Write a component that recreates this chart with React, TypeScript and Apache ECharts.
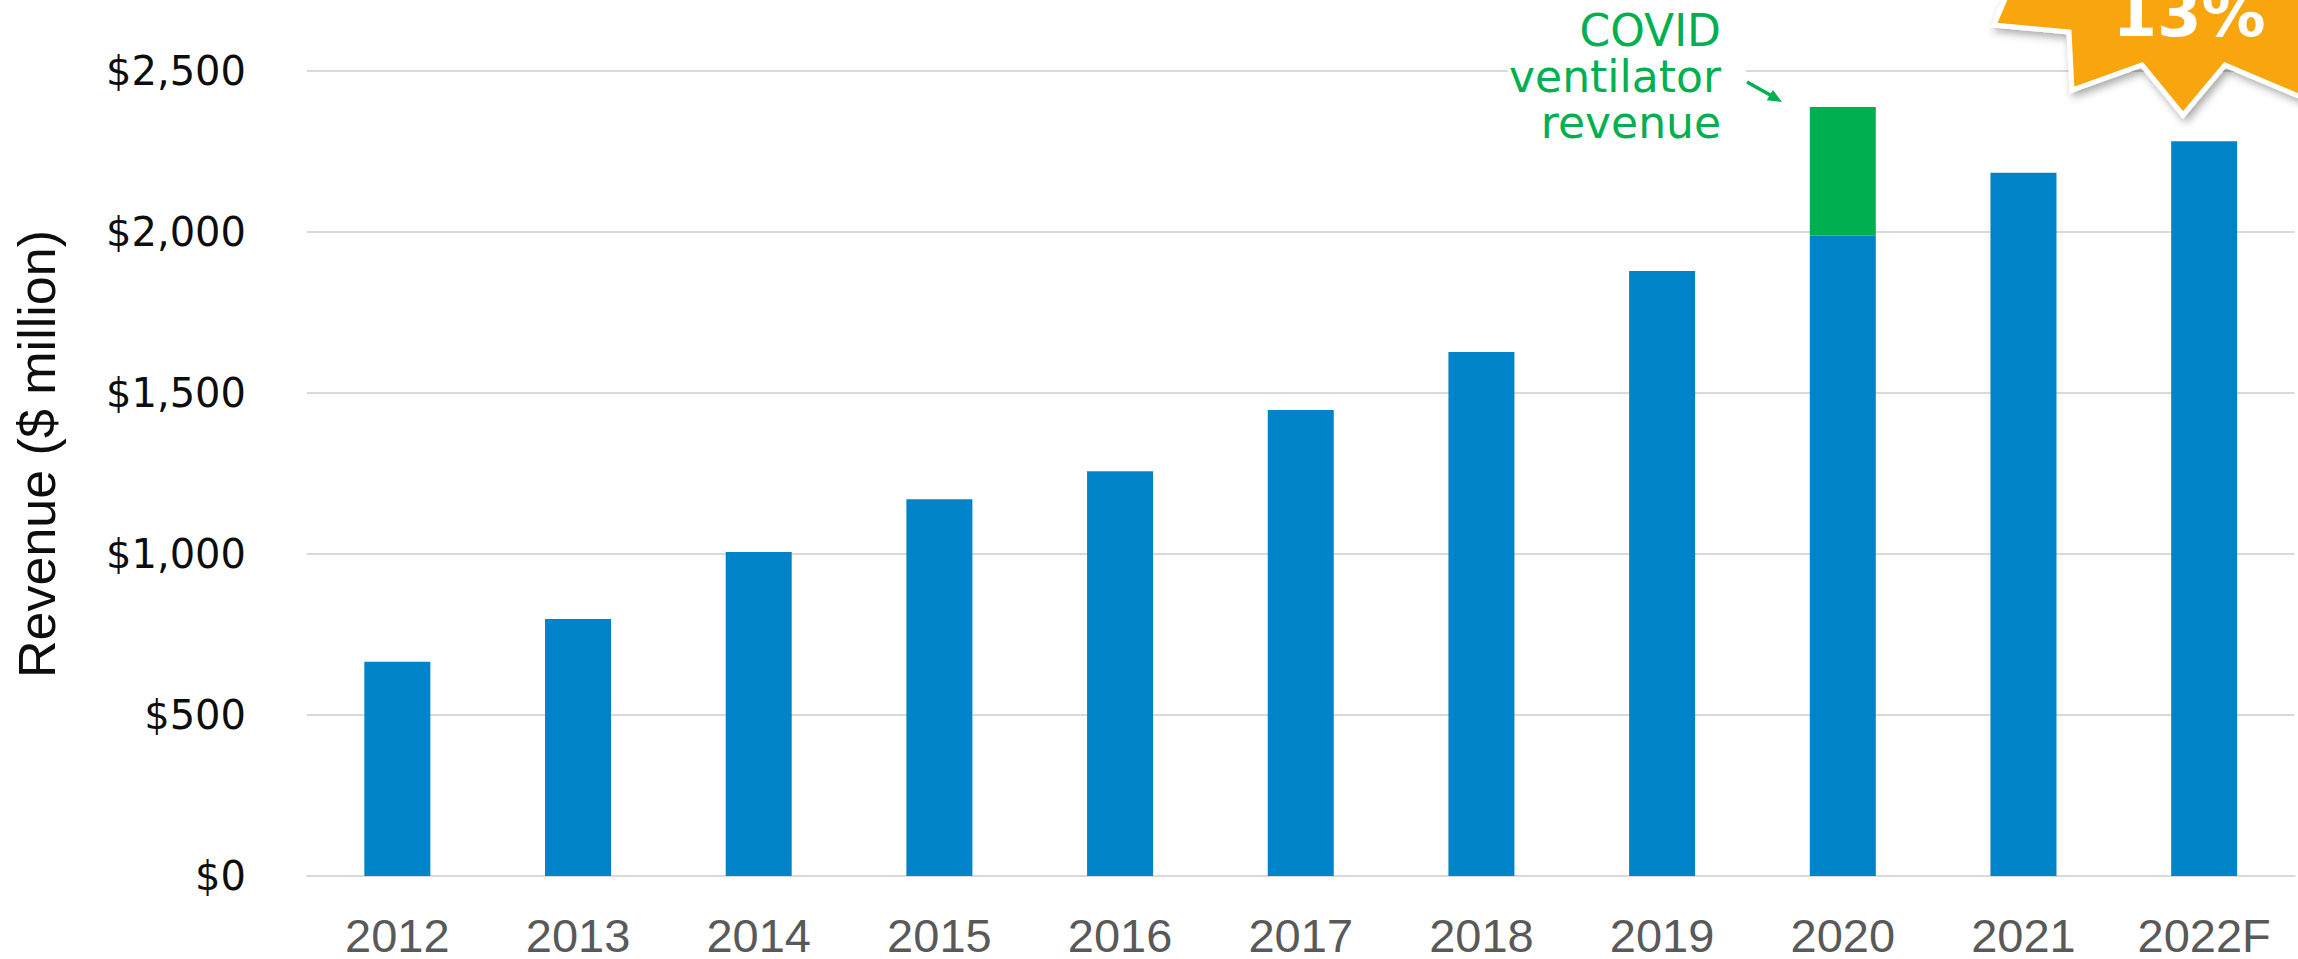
import React, { useEffect, useRef } from 'react';
import * as echarts from 'echarts';

const years = ['2012', '2013', '2014', '2015', '2016', '2017', '2018', '2019', '2020', '2021', '2022F'];
const coreRevenue = [665, 798, 1006, 1170, 1257, 1447, 1627, 1879, 1988, 2184, 2282];
const covidVentilatorRevenue = [null, null, null, null, null, null, null, null, 400, null, null];
const yMin = 0;
const yMax = 2500;
const yInterval = 500;
const yAxisTitle = 'Revenue ($ million)';
const annotationLines = ['COVID', 'ventilator', 'revenue'];
const badgeText = '13%';

const BLUE = '#0083C8';
const GREEN = '#00B050';
const ORANGE = '#F9A50D';

export default function App() {
  const ref = useRef<HTMLDivElement>(null);
  useEffect(() => {
    const chart = echarts.init(ref.current as HTMLDivElement, null, { renderer: 'svg' });
    chart.setOption({
      animation: false,
      backgroundColor: '#ffffff',
      grid: { left: 307, right: 3.5, top: 71, bottom: 83, containLabel: false },
      xAxis: {
        type: 'category',
        data: years,
        axisLine: { show: true, lineStyle: { color: '#D9D9D9', width: 2 } },
        axisTick: { show: false },
        axisLabel: {
          color: '#595959',
          fontFamily: "'Liberation Sans', Arial, sans-serif",
          fontSize: 47,
          lineHeight: 40,
          margin: 39,
        },
      },
      yAxis: {
        type: 'value',
        min: yMin,
        max: yMax,
        interval: yInterval,
        axisLine: { show: false },
        axisTick: { show: false },
        splitLine: { lineStyle: { color: '#D9D9D9', width: 2 } },
        axisLabel: {
          color: '#0D0D0D',
          fontFamily: "'DejaVu Sans', sans-serif",
          fontSize: 40,
          margin: 61,
          formatter: (v: number) => '$' + v.toLocaleString('en-US'),
        },
      },
      series: [
        {
          name: 'Revenue',
          type: 'bar',
          stack: 'total',
          data: coreRevenue,
          barWidth: 66,
          itemStyle: { color: BLUE },
        },
        {
          name: 'COVID ventilator revenue',
          type: 'bar',
          stack: 'total',
          data: covidVentilatorRevenue,
          barWidth: 66,
          itemStyle: { color: GREEN },
        },
      ],
      graphic: [
        {
          type: 'text',
          x: 37,
          y: 454,
          rotation: Math.PI / 2,
          style: {
            text: yAxisTitle,
            fill: '#0D0D0D',
            font: "52px 'Liberation Sans', Arial, sans-serif",
            textAlign: 'center',
            textVerticalAlign: 'middle',
          },
        },
        {
          type: 'rect',
          z: 10,
          shape: { x: 1508, y: 0, width: 238, height: 150 },
          style: { fill: '#ffffff' },
        },
        {
          type: 'text',
          z: 11,
          x: 1721,
          y: 76,
          style: {
            text: annotationLines.join('\n'),
            fill: GREEN,
            font: "44px 'DejaVu Sans', sans-serif",
            lineHeight: 46,
            textAlign: 'right',
            textVerticalAlign: 'middle',
          },
        },
        {
          type: 'line',
          z: 11,
          shape: { x1: 1747, y1: 82, x2: 1772, y2: 96 },
          style: { stroke: GREEN, lineWidth: 3.5 },
        },
        {
          type: 'polygon',
          z: 11,
          shape: { points: [[1782, 102], [1766.8, 100.3], [1772.8, 89.9]] },
          style: { fill: GREEN },
        },
        {
          type: 'polygon',
          z: 20,
          shape: {
            points: [
              [2013, -20],
              [1994, 25],
              [2069, 32],
              [2072, 90],
              [2142, 65],
              [2183, 115],
              [2225, 65],
              [2296, 95],
              [2330, 105],
              [2330, -20],
            ],
          },
          style: {
            fill: ORANGE,
            stroke: '#ffffff',
            lineWidth: 5,
            lineJoin: 'miter',
            shadowBlur: 8,
            shadowOffsetX: 3,
            shadowOffsetY: 4,
            shadowColor: 'rgba(0,0,0,0.35)',
          },
        },
        {
          type: 'text',
          z: 21,
          x: 2189,
          y: 14,
          style: {
            text: badgeText,
            fill: '#ffffff',
            font: "bold 64px 'DejaVu Sans', sans-serif",
            textAlign: 'center',
            textVerticalAlign: 'middle',
          },
        },
      ],
    });
    return () => chart.dispose();
  }, []);
  return (
    <div
      ref={ref}
      style={{ position: 'fixed', left: 0, top: 0, width: '2298px', height: '959px', background: '#fff' }}
    />
  );
}
